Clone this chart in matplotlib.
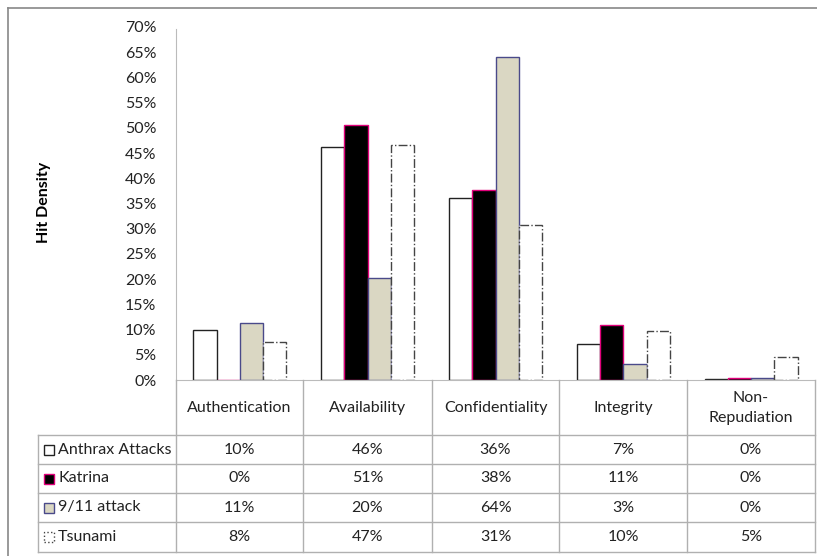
import numpy as np
import matplotlib.pyplot as plt
from matplotlib.patches import Rectangle
from matplotlib.lines import Line2D

plt.rcParams['font.family'] = ['Lato', 'DejaVu Sans']

categories = ['Authentication', 'Availability', 'Confidentiality', 'Integrity', 'Non-\nRepudiation']
series = ['Anthrax Attacks', 'Katrina', '9/11 attack', 'Tsunami']
anthrax = [9.9, 46.2, 36.1, 7.1, 0.1]
katrina = [0.0, 50.6, 37.7, 10.9, 0.3]
attack911 = [11.3, 20.2, 64.1, 3.2, 0.4]
tsunami = [7.6, 46.6, 30.8, 9.7, 4.6]
values = [anthrax, katrina, attack911, tsunami]

faces = ['white', 'black', '#dad7c3', 'white']
edges = ['#222222', '#e0007a', '#4a4a8a', '#444444']
styles = ['-', '-', '-', '-.']

W, H = 817, 556
fig = plt.figure(figsize=(W / 100, H / 100), dpi=100)
fs = 11.5

def fx(px):
    return px / W

def fy(py):
    return 1 - py / H

# outer border
fig.add_artist(Line2D([fx(8), fx(8)], [fy(8), 0], color='#888888', lw=1.2))
fig.add_artist(Line2D([fx(8), 1], [fy(8), fy(8)], color='#888888', lw=1.2))

ax = fig.add_axes([fx(176), fy(380), fx(815) - fx(176), fy(27) - fy(380)])
n = len(categories)
x = np.arange(n)
w = 0.182
for k, vals in enumerate(values):
    ax.bar(x + (k - 1.5) * w, vals, w, color=faces[k], edgecolor=edges[k],
           linewidth=1.0, linestyle=styles[k])

ax.set_xlim(-0.5, n - 0.5)
ax.set_ylim(0, 70)
ax.set_yticks(np.arange(0, 71, 5))
ax.set_yticklabels([f'{v}%' for v in range(0, 71, 5)], fontsize=fs, color='#222222')
ax.tick_params(axis='y', length=0, pad=14)
ax.set_xticks([])
for s in ['top', 'right']:
    ax.spines[s].set_visible(False)
ax.spines['left'].set_color('#bbbbbb')
ax.spines['bottom'].set_color('#bbbbbb')
ax.spines['left'].set_bounds(0, 69.6)

fig.text(fx(44), fy(202), 'Hit Density', rotation=90, ha='center', va='center',
         fontsize=fs, fontweight='bold')

# data table
cols = [176, 303, 432, 559, 687, 815]
rows = [380, 435, 464, 493, 522, 552]
left = 38
gc = '#b0b0b0'
for c in cols:
    fig.add_artist(Line2D([fx(c), fx(c)], [fy(380), fy(552)], color=gc, lw=1))
fig.add_artist(Line2D([fx(left), fx(left)], [fy(435), fy(552)], color=gc, lw=1))
for r in rows[1:]:
    fig.add_artist(Line2D([fx(left), fx(815)], [fy(r), fy(r)], color=gc, lw=1))

for i, cat in enumerate(categories):
    cx = (cols[i] + cols[i + 1]) / 2
    fig.text(fx(cx), fy(408), cat, ha='center', va='center', fontsize=fs,
             color='#222222', linespacing=1.5)

for k, name in enumerate(series):
    cy = (rows[k + 1] + rows[k + 2]) / 2
    fig.add_artist(Rectangle((fx(44), fy(cy + 5)), fx(10), fy(0) - fy(10),
                             facecolor=faces[k], edgecolor=edges[k], lw=1,
                             linestyle=':' if styles[k] == '-.' else '-'))
    fig.text(fx(58), fy(cy), name, ha='left', va='center', fontsize=fs, color='#222222')
    for i in range(n):
        cx = (cols[i] + cols[i + 1]) / 2
        fig.text(fx(cx), fy(cy), f'{round(values[k][i])}%', ha='center', va='center',
                 fontsize=fs, color='#222222')

plt.savefig('out.png', dpi=100)
